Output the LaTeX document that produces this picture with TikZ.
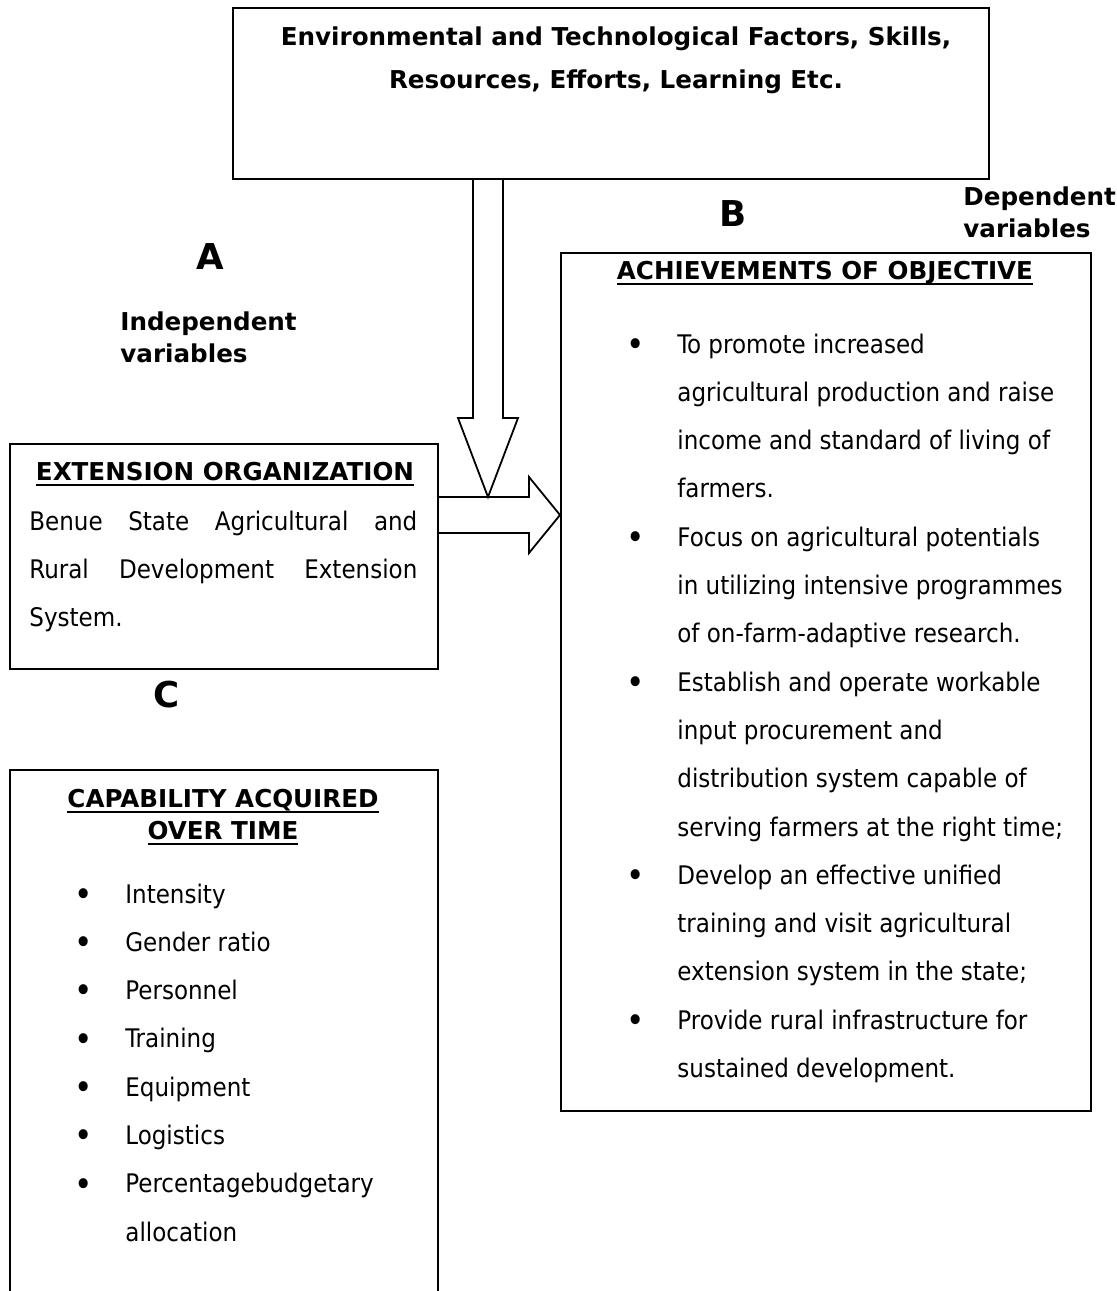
\documentclass[tikz,border=0pt]{standalone}
\usepackage{fontspec}
\setmainfont{DejaVu Sans Condensed}[BoldFont={DejaVu Sans Bold}]
\usetikzlibrary{positioning,calc}

\newcommand{\bodyfont}{\fontsize{12.8}{24.15}\selectfont}
\newcommand{\headfont}{\fontsize{12.3}{16}\selectfont\bfseries}
\newcommand{\letterfont}{\fontsize{17.8}{20}\selectfont\bfseries}
\newsavebox{\ulbox}
\newcommand{\ulhead}[1]{\sbox\ulbox{#1}\rlap{\rule[-2.8pt]{\wd\ulbox}{1pt}}\usebox\ulbox}
\newcommand{\bul}{\makebox[0pt]{\raisebox{-1.6pt}{\scalebox{1.35}{\textbullet}}}\kern21pt}

\begin{document}
\begin{tikzpicture}[
            x=0.5pt, y=-0.5pt,
            frame/.style={draw, line width=0.9pt, inner sep=0pt, anchor=north west},
            hollow/.style={draw, line width=0.9pt, line join=miter},
            bodytext/.style={inner sep=0pt, font=\bodyfont},
            headtext/.style={inner sep=0pt, font=\headfont},
            bigletter/.style={inner sep=0pt, font=\letterfont, anchor=base}
        ]
            \useasboundingbox (0,0) rectangle (1116,1291);
            % boxes
            \node[frame, minimum width=378pt, minimum height=85.5pt] (factors) at (232,7) {};
            \node[frame, minimum width=265pt, minimum height=429pt] (objective) at (560,252) {};
            \node[frame, minimum width=214pt, minimum height=112.5pt] (extorg) at (9,443) {};
            \node[frame, minimum width=214pt, minimum height=275pt] (capability) at (9,769) {};

            % top box
            \node[headtext, anchor=base] (factorstext) at (616,45)
                {\fontsize{12.3}{21.5}\selectfont\begin{tabular}[t]{@{}c@{}}
                Environmental and Technological Factors, Skills,\\
                Resources, Efforts, Learning Etc.
                \end{tabular}};

            % letters and variable labels
            \node[bigletter] (letterA) at (210,269) {A};
            \node[bigletter] (letterB) at (733,226) {B};
            \node[bigletter] (letterC) at (167,707) {C};
            \node[headtext, anchor=base west] (indep) at (120,330)
                {\begin{tabular}[t]{@{}l@{}}Independent\\ variables\end{tabular}};
            \node[headtext, anchor=base west] (dep) at (963,205)
                {\begin{tabular}[t]{@{}l@{}}Dependent\\ variables\end{tabular}};

            % extension organization
            \node[headtext, anchor=base] (exthead) at (225,480) {\ulhead{EXTENSION ORGANIZATION}};
            \node[bodytext, anchor=base west] (extbody) at (29,530)
                {\begin{tabular}[t]{@{}l@{}}
                \makebox[194pt][s]{Benue State Agricultural and}\\
                \makebox[194pt][s]{Rural Development Extension}\\
                System.
                \end{tabular}};

            % achievements of objective
            \node[headtext, anchor=base] (objhead) at (825,279) {\ulhead{ACHIEVEMENTS OF OBJECTIVE}};
            \node[bodytext, anchor=base west] (objlist) at (635,353)
                {\begin{tabular}[t]{@{}l@{}l@{}}
                \bul & To promote increased\\
                     & agricultural production and raise\\
                     & income and standard of living of\\
                     & farmers.\\
                \bul & Focus on agricultural potentials\\
                     & in utilizing intensive programmes\\
                     & of on-farm-adaptive research.\\
                \bul & Establish and operate workable\\
                     & input procurement and\\
                     & distribution system capable of\\
                     & serving farmers at the right time;\\
                \bul & Develop an effective unified\\
                     & training and visit agricultural\\
                     & extension system in the state;\\
                \bul & Provide rural infrastructure for\\
                     & sustained development.
                \end{tabular}};

            % capability acquired over time
            \node[headtext, anchor=base] (caphead) at (223,807)
                {\begin{tabular}[t]{@{}c@{}}\ulhead{CAPABILITY ACQUIRED}\\ \ulhead{OVER TIME}\end{tabular}};
            \node[bodytext, anchor=base west] (caplist) at (83,903)
                {\begin{tabular}[t]{@{}l@{}l@{}}
                \bul & Intensity\\
                \bul & Gender ratio\\
                \bul & Personnel\\
                \bul & Training\\
                \bul & Equipment\\
                \bul & Logistics\\
                \bul & Percentagebudgetary\\
                     & allocation
                \end{tabular}};

            % hollow arrows
            \coordinate (jn) at (488,497);
            \coordinate (rtip) at (560,515);
            \draw[hollow] ($(jn |- factors.south)+(-15,0)$) -- ($(jn)+(-15,-79)$) -- ($(jn)+(-30,-79)$)
                -- (jn) -- ($(jn)+(30,-79)$) -- ($(jn)+(15,-79)$) -- ($(jn |- factors.south)+(15,0)$);
            \draw[hollow] ($(extorg.east |- rtip)+(0,-18)$) -- ($(rtip)+(-31,-18)$) -- ($(rtip)+(-31,-38)$)
                -- (rtip) -- ($(rtip)+(-31,38)$) -- ($(rtip)+(-31,18)$) -- ($(extorg.east |- rtip)+(0,18)$);
        \end{tikzpicture}
\end{document}
